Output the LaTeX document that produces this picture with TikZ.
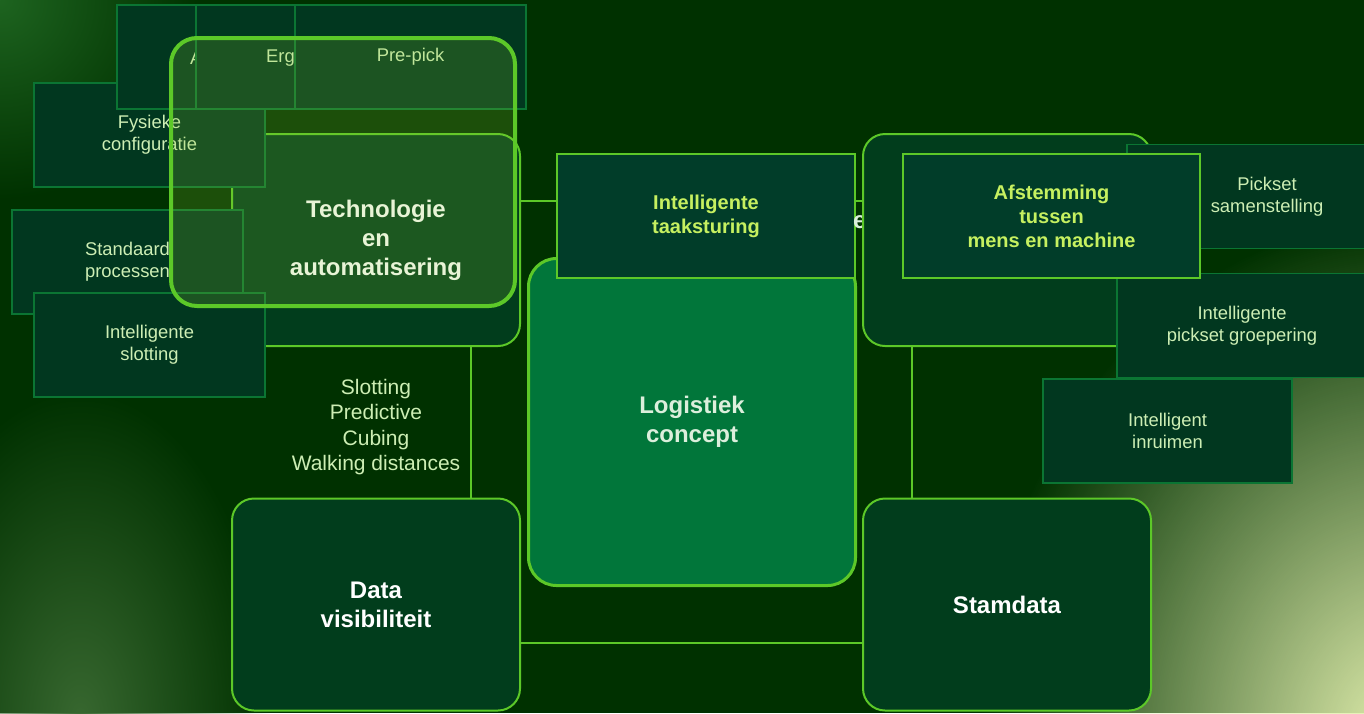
\documentclass[tikz,border=0pt]{standalone}
\usepackage{fontspec}
\setmainfont{Liberation Sans}
\usetikzlibrary{positioning,backgrounds,fadings}

\definecolor{bg}{HTML}{003100}
\definecolor{lime}{HTML}{5CC828}
\definecolor{boxfill}{HTML}{013D1C}
\definecolor{cardfill}{HTML}{01371F}
\definecolor{cardline}{HTML}{0B7533}
\definecolor{corefill}{HTML}{01763A}
\definecolor{taskfill}{HTML}{013D29}
\definecolor{paletext}{HTML}{CDEEB4}
\definecolor{coretext}{HTML}{DCEFDC}
\definecolor{yellowtext}{HTML}{C6F060}
\definecolor{glow}{HTML}{8CC832}
\definecolor{glowtl}{HTML}{1E6420}
\definecolor{glowbl}{HTML}{386830}
\definecolor{glowbr}{HTML}{E2EFAE}

\tikzfading[name=softglow, inner color=transparent!0, outer color=transparent!100]

\begin{document}
\begin{tikzpicture}[x=1pt,y=-1pt,
    big/.style={draw=lime,line width=2pt,fill=boxfill,rounded corners=22pt,
      minimum width=288pt,minimum height=212pt,inner sep=0pt,text=white,
      font=\bfseries\fontsize{24}{29}\selectfont,align=center},
    card/.style={draw=cardline,line width=1.5pt,fill=cardfill,
      minimum width=231pt,minimum height=104pt,inner sep=0pt,text=paletext,
      font=\fontsize{18.4}{22}\selectfont,align=center},
    task/.style={draw=lime,line width=2pt,fill=taskfill,minimum width=298pt,
      minimum height=124pt,inner sep=0pt,text=yellowtext,
      font=\bfseries\fontsize{20}{24}\selectfont,align=center},
    link/.style={draw=lime,line width=2pt}]
  \tikzstyle{cut text}=[inner sep=0pt,text=paletext,font=\fontsize{18.4}{22}\selectfont]

  \useasboundingbox (0,0) rectangle (1364,713);

  % four corner blocks and the core
  \node[big] (T) at (376,240)   {Technologie\\en\\automatisering};
  \node[big] (D) at (376,604.5) {Data\\visibiliteit};
  \node[big] (S) at (1007,604.5) {Stamdata};
  \node[draw=lime,line width=3pt,fill=corefill,rounded corners=28pt,
        minimum width=327pt,minimum height=327pt,text=coretext,
        font=\bfseries\fontsize{24}{29}\selectfont,align=center] (L) at (692,422) {Logistiek\\concept};
  \node[task] (IT) at (706,216) {Intelligente\\taaksturing};
  \node[anchor=base west,inner sep=0pt,text=coretext,
        font=\bfseries\fontsize{24}{29}\selectfont] (E) at (853,228) {e};
  \node[big] (M) at (1007,240) {};

  \node[text=paletext,font=\fontsize{21}{25.3}\selectfont,align=center] (SL) at (376,427)
        {Slotting\\Predictive\\Cubing\\Walking distances};

  % left cards
  \node[card] (FC) at (149.5,135) {Fysieke\\configuratie};
  \node[card] (C1) at (232.5,57) {};
  \node[cut text,anchor=west] (C1t) at (190,58) {A};
  \node[card] (C2) at (311.5,57) {};
  \node[cut text,anchor=west] (C2t) at (266,58) {Erg};
  \node[card] (C3) at (410.5,57) {Pre-pick};
  \node[card] (SP) at (127.5,262) {Standaard\\processen};
  \node[card] (IS) at (149.5,345) {Intelligente\\slotting};

  \node[draw=lime,line width=4pt,fill=glow,fill opacity=0.2,rounded corners=26pt,
        minimum width=344pt,minimum height=268pt] (HL) at (343,172) {};

  % right cards
  \node[card,minimum width=280pt] (PS) at (1267,196.5) {Pickset\\samenstelling};
  \node[card,minimum width=250pt] (PG) at (1242,325.5) {Intelligente\\pickset groepering};
  \node[card,minimum width=249pt] (IR) at (1167.5,431) {Intelligent\\inruimen};
  \node[task,minimum width=297pt] (AM) at (1051.5,216) {Afstemming\\tussen\\mens en machine};

  \begin{scope}[on background layer]
    \fill[bg] (0,0) rectangle (1364,713);
    \begin{scope}
      \clip (0,0) rectangle (1364,713);
      \fill[glowtl,path fading=softglow] (0,0) circle (200);
      \fill[glowbl,path fading=softglow] (80,720) ellipse (190 and 330);
      \fill[glowbr,path fading=softglow] (1400,740) ellipse (420 and 520);
    \end{scope}
    \draw[link] ([yshift=39pt]T.east) -- ([yshift=39pt]M.west);
    \draw[link] ([xshift=95pt]T.south) -- ([xshift=95pt]D.north);
    \draw[link] ([xshift=-95pt]M.south) -- ([xshift=-95pt]S.north);
    \draw[link] ([yshift=-38pt]D.east) -- ([yshift=-38pt]S.west);
  \end{scope}
\end{tikzpicture}
\end{document}
